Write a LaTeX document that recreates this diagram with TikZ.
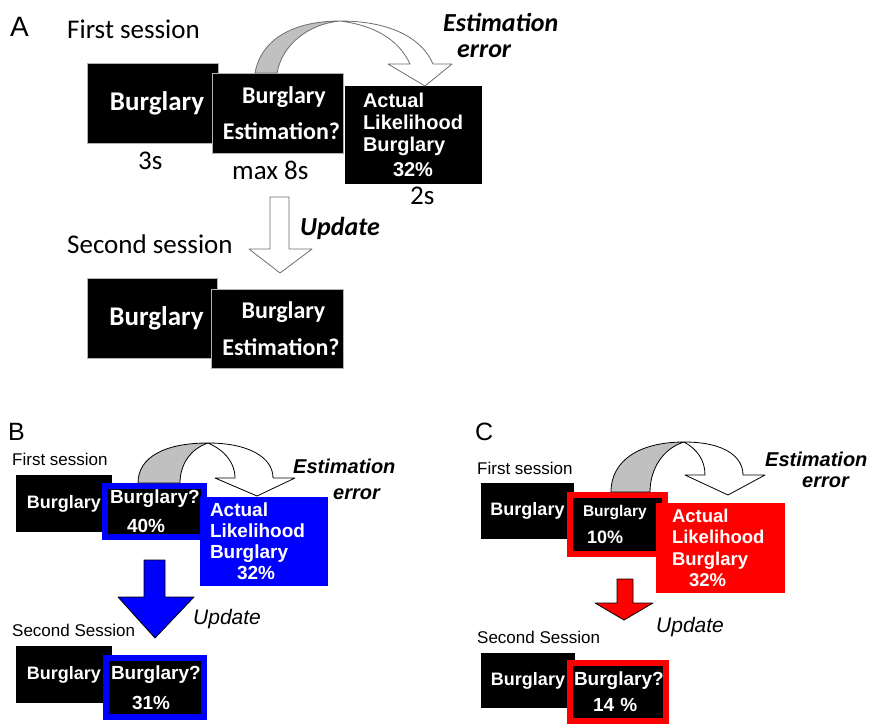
\documentclass[tikz,border=0pt]{standalone}
\usepackage{fontspec}
\newfontfamily\calibrifont{Carlito}
\newfontfamily\arialfont{Liberation Sans}
\definecolor{probeblue}{RGB}{0,0,255}
\definecolor{probered}{RGB}{255,0,0}
\definecolor{ribbongray}{RGB}{192,192,192}
\definecolor{edgegray}{RGB}{110,110,110}

\begin{document}
\begin{tikzpicture}[x=1pt, y=-1pt,
  slide/.style={fill=black, text=white, inner sep=0pt, outer sep=0pt, align=center},
  slideA/.style={slide, draw=black!30, line width=0.8pt, font=\calibrifont\bfseries\fontsize{27}{36}\selectfont},
  slideBC/.style={slide, font=\arialfont\bfseries\fontsize{18}{22}\selectfont},
  framed/.style={slide, line width=6pt, align=left, font=\arialfont\bfseries\fontsize{19}{29}\selectfont},
  outcome/.style={inner ysep=0pt, outer sep=0pt, align=left, text=white, font=\arialfont\bfseries\fontsize{19}{21}\selectfont},
  note/.style={inner sep=0pt, anchor=base west},
  calA/.style={note, font=\calibrifont\fontsize{27}{27}\selectfont},
  calAit/.style={note, font=\calibrifont\bfseries\itshape\fontsize{26}{26}\selectfont},
  arlab/.style={note, font=\arialfont\fontsize{17}{17}\selectfont},
  arit/.style={note, font=\arialfont\bfseries\itshape\fontsize{20}{20}\selectfont},
  updlab/.style={note, font=\arialfont\itshape\fontsize{21}{21}\selectfont},
  ribbon/.style={draw=black, line width=0.8pt, line join=round},
]
\useasboundingbox (0,0) rectangle (872,725);

% Panel A
\node[note, font=\arialfont\fontsize{28}{28}\selectfont] (panA) at (10,37) {A};
\node[calA] (firstA) at (67,39) {First session};
\node[slideA, minimum width=131pt, minimum height=80pt] (cueA) at (152.5,103) {\hspace*{9pt}Burglary};
\node[slideA, minimum width=131pt, minimum height=80pt,
      font=\calibrifont\bfseries\fontsize{24}{36}\selectfont] (estA) at (277.5,113)
{\hspace*{13pt}Burglary\\\hspace*{8pt}Estimation?};
\node[outcome, fill=black, text width=101pt, inner xsep=18pt, minimum height=98pt,
      font=\arialfont\bfseries\fontsize{20}{22}\selectfont] (actA) at (413.5,135)
{Actual\\Likelihood\\Burglary\\[3pt]\hspace*{30pt}32\%};
\node[calA] (timeA1) at (138,169) {3s};
\node[calA] (timeA2) at (232,179) {max 8s};
\node[calA] (timeA3) at (410,204) {2s};
\node[calAit] (errA1) at (443,32) {Estimation};
\node[calAit] (errA2) at (457,57) {error};

\draw[ribbon, draw=edgegray, fill=ribbongray]
  (255,73) .. controls (262,35) and (300,21) .. (340,21)
  .. controls (308,24) and (282,45) .. (277,73) -- cycle;
\draw[ribbon, draw=edgegray, fill=white]
  (340,21) .. controls (390,21) and (422,38) .. (433,64) -- (452,64) -- (425,86)
  -- (388,64) -- (410,64) .. controls (398,38) and (372,25) .. (340,21) -- cycle;

\draw[ribbon, draw=edgegray, fill=white]
  (270,197) -- (289,197) -- (289,249) -- (312,249) -- (280,273) -- (249,249) -- (270,249) -- cycle;
\node[calAit] (updA) at (300,235) {Update};
\node[calA] (secondA) at (67,253) {Second session};
\node[slideA, minimum width=130pt, minimum height=80pt] (cueA2) at (152,318) {\hspace*{9pt}Burglary};
\node[slideA, minimum width=132pt, minimum height=79pt,
      font=\calibrifont\bfseries\fontsize{24}{37}\selectfont] (estA2) at (277,328.5)
{\hspace*{13pt}Burglary\\\hspace*{8pt}Estimation?};

% Panel B
\node[note, font=\arialfont\fontsize{25}{25}\selectfont] (panB) at (8,440) {B};
\node[arlab] (firstB) at (12,465) {First session};
\node[slideBC, minimum width=96pt, minimum height=57pt] (cueB) at (64,503.5) {Burglary};
\node[framed, draw=probeblue, text width=89pt, inner xsep=5pt, minimum height=51pt] (estB) at (154.5,511.5)
{Burglary?\\\hspace*{17pt}40\%};
\node[outcome, fill=probeblue, text width=108pt, inner xsep=10pt, minimum height=89pt] (actB) at (264,541.5)
{Actual\\Likelihood\\Burglary\\\hspace*{27pt}32\%};
\node[arit] (errB1) at (293,473) {Estimation};
\node[arit] (errB2) at (333,499) {error};

\draw[ribbon, fill=ribbongray]
  (138,483) .. controls (138,457) and (165,443) .. (208,443)
  .. controls (190,449) and (180,465) .. (180,483) -- cycle;
\draw[ribbon, fill=white]
  (208,443) .. controls (248,443) and (273,457) .. (273,478) -- (295,478) -- (257,496)
  -- (215,478) -- (235,478) .. controls (235,462) and (224,450) .. (208,443) -- cycle;

\draw[ribbon, fill=probeblue]
  (144,560) -- (165,560) -- (165,597) -- (194,597) -- (155,638) -- (118,597) -- (144,597) -- cycle;
\node[updlab] (updB) at (193,624) {Update};
\node[arlab] (secondB) at (12,636) {Second Session};
\node[slideBC, minimum width=96pt, minimum height=57pt] (cueB2) at (64,674.5) {Burglary};
\node[framed, draw=probeblue, text width=88pt, inner xsep=5pt, minimum height=59pt,
      font=\arialfont\bfseries\fontsize{19}{30}\selectfont] (estB2) at (155,687.5)
{Burglary?\\\hspace*{21pt}31\%};

% Panel C
\node[note, font=\arialfont\fontsize{25}{25}\selectfont] (panC) at (475,440) {C};
\node[arlab] (firstC) at (477,474) {First session};
\node[slideBC, minimum width=93pt, minimum height=56pt] (cueC) at (527.5,511) {Burglary};
\node[framed, draw=probered, text width=69pt, inner xsep=13pt, minimum height=59pt,
      font=\arialfont\bfseries\fontsize{18}{27}\selectfont] (estC) at (617.5,524.5)
{{\fontsize{15.5}{27}\selectfont Burglary}\\\hspace*{4pt}10\%};
\node[outcome, fill=probered, text width=97pt, inner xsep=16pt, minimum height=90pt,
      font=\arialfont\bfseries\fontsize{18.5}{21.5}\selectfont] (actC) at (720.5,548)
{Actual\\Likelihood\\Burglary\\\hspace*{17pt}32\%};
\node[arit] (errC1) at (765,466) {Estimation};
\node[arit] (errC2) at (802,487) {error};

\draw[ribbon, fill=ribbongray]
  (611,492) .. controls (611,460) and (640,442) .. (684,442)
  .. controls (664,448) and (650,468) .. (650,492) -- cycle;
\draw[ribbon, fill=white]
  (684,442) .. controls (725,442) and (743,457) .. (743,475) -- (765,475) -- (728,495)
  -- (685,475) -- (705,475) .. controls (705,460) and (697,449) .. (684,442) -- cycle;

\draw[ribbon, fill=probered]
  (617,579) -- (633,579) -- (633,603) -- (653,603) -- (624,620) -- (595,603) -- (617,603) -- cycle;
\node[updlab] (updC) at (656,632) {Update};
\node[arlab] (secondC) at (477,643) {Second Session};
\node[slideBC, minimum width=94pt, minimum height=55pt] (cueC2) at (528,680.5) {Burglary};
\node[framed, draw=probered, text width=88pt, inner xsep=4pt, minimum height=58pt,
      font=\arialfont\bfseries\fontsize{19}{26}\selectfont] (estC2) at (618,692)
{Burglary?\\\hspace*{19pt}14 \%};
\end{tikzpicture}
\end{document}
